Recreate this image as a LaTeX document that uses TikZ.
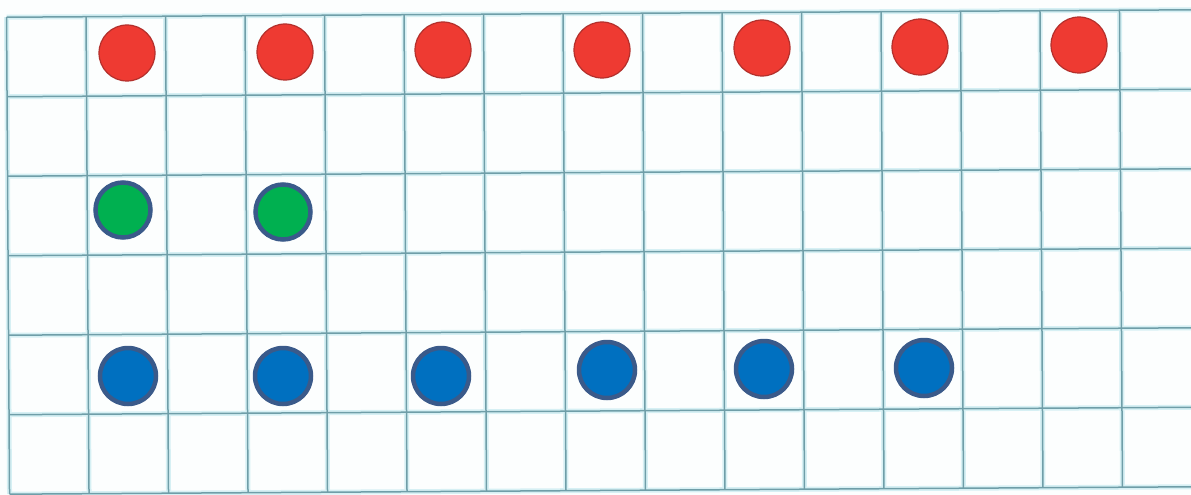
\documentclass[tikz,border=0pt]{standalone}
\usepackage{xcolor}
\usepackage{tikz}
\definecolor{Paper}{HTML}{FCFEFE}
\definecolor{GridGlow}{HTML}{D6F0F4}
\definecolor{GridLine}{HTML}{6F9EA8}
\definecolor{DotRed}{HTML}{EE3A32}
\definecolor{DotRedEdge}{HTML}{B3302C}
\definecolor{DotGreen}{HTML}{00B050}
\definecolor{DotBlue}{HTML}{0070C0}
\definecolor{DotEdge}{HTML}{3A5A8A}
\tikzset{
  glow/.style={draw=GridGlow,line width=5pt},
  gridline/.style={draw=GridLine,line width=1.5pt},
  reddot/.style={circle,draw=DotRedEdge,fill=DotRed,line width=1.2pt,minimum size=56pt,inner sep=0pt},
  greendot/.style={circle,draw=DotEdge,fill=DotGreen,line width=4.5pt,minimum size=55pt,inner sep=0pt},
  bluedot/.style={circle,draw=DotEdge,fill=DotBlue,line width=4.5pt,minimum size=56pt,inner sep=0pt}
}

\begin{document}
\begin{tikzpicture}[x=1pt,y=-1pt]
  \useasboundingbox[fill=Paper] (0,0) rectangle (1191,495);
  % squared paper, scanned slightly askew
  \begin{scope}[rotate around={0.36:(600,252)}]
    \foreach \i in {0,...,14} \draw[glow] (8+79.5*\i,13.5) -- (8+79.5*\i,490.5);
    \foreach \j in {0,...,6} \draw[glow] (8,13.5+79.5*\j) -- (1195,13.5+79.5*\j);
    \foreach \i in {0,...,14} \draw[gridline] (8+79.5*\i,13.5) -- (8+79.5*\i,490.5);
    \foreach \j in {0,...,6} \draw[gridline] (8,13.5+79.5*\j) -- (1195,13.5+79.5*\j);
  \end{scope}
  % first row: red
  \node[reddot] (r1) at (127,53) {};
  \node[reddot] (r2) at (285,52) {};
  \node[reddot] (r3) at (443,50) {};
  \node[reddot] (r4) at (602,50) {};
  \node[reddot] (r5) at (762,48) {};
  \node[reddot] (r6) at (920,47) {};
  \node[reddot] (r7) at (1079,45) {};
  % third row: green
  \node[greendot] (g1) at (123,210) {};
  \node[greendot] (g2) at (283,212) {};
  % fifth row: blue
  \node[bluedot] (b1) at (128,376) {};
  \node[bluedot] (b2) at (283,376) {};
  \node[bluedot] (b3) at (441,376) {};
  \node[bluedot] (b4) at (607,370) {};
  \node[bluedot] (b5) at (764,369) {};
  \node[bluedot] (b6) at (924,368) {};
\end{tikzpicture}
\end{document}
